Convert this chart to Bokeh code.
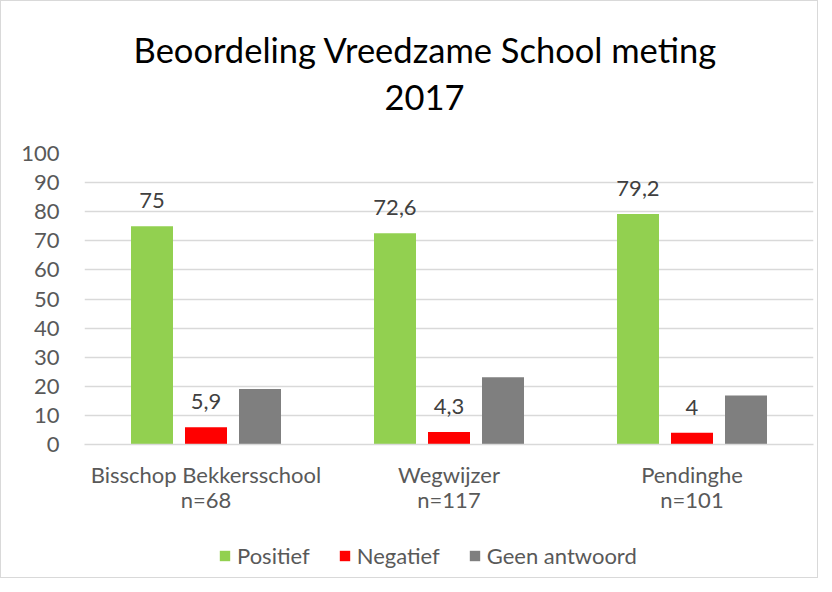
from bokeh.plotting import figure
from bokeh.models import (ColumnDataSource, FactorRange, Legend, LegendItem, LabelSet, Label,
                          FixedTicker, Range1d)
from bokeh.layouts import column
from bokeh.transform import dodge
from bokeh.core.properties import value
from bokeh.embed import file_html
from bokeh.resources import INLINE

schools = ["Bisschop Bekkersschool", "Wegwijzer", "Pendinghe"]
counts = ["n=68", "n=117", "n=101"]
positief = [75, 72.6, 79.2]
negatief = [5.9, 4.3, 4]
geen_antwoord = [19.1, 23.1, 16.8]
series_names = ["Positief", "Negatief", "Geen antwoord"]
colors = ["#92d050", "#ff0000", "#7f7f7f"]
y_ticks = [0, 10, 20, 30, 40, 50, 60, 70, 80, 90, 100]
title_lines = ["Beoordeling Vreedzame School meting", "2017"]

FONT = "Lato"
TXT = "#595959"
FS = "22px"
W = 816
TH = 130  # height of the title strip
FL, FR = 83, 812  # frame edges (column layout aligns all frames to these)

cats = [f"{s}\n{n}" for s, n in zip(schools, counts)]


def fmt(v):
    s = f"{v:g}"
    return s.replace(".", ",")


src = ColumnDataSource(dict(
    cat=cats,
    pos=positief,
    neg=negatief,
    geen=geen_antwoord,
    pos_lbl=[fmt(v) for v in positief],
    neg_lbl=[fmt(v) for v in negatief],
))

# ---- title strip (pixel-like ranges, y downwards)
t = figure(width=W, height=TH, x_range=Range1d(FL, FR), y_range=Range1d(TH, 0),
           output_backend="svg", toolbar_location=None,
           x_axis_location=None, y_axis_location=None, min_border=0)
t.grid.grid_line_color = None
t.outline_line_color = None
for line, (lx, ly) in zip(title_lines, [(424, 48), (423, 96)]):
    t.add_layout(Label(x=lx, y=ly, text=line, text_align="center", text_baseline="middle",
                       text_font=FONT, text_font_size="34.5px", text_color="#000000"))

# ---- main chart
xr = FactorRange(*cats)
p = figure(width=W, height=400, x_range=xr, y_range=Range1d(0, 100),
           output_backend="svg", toolbar_location=None,
           min_border_left=FL, min_border_right=W - FR, min_border_top=152 - TH,
           min_border_bottom=87)

step = 54 / 243
bw = 42 / 243
fields = ["pos", "neg", "geen"]
for i, (f, c) in enumerate(zip(fields, colors)):
    p.vbar(x=dodge("cat", (i - 1) * step, range=xr), top=f, width=bw,
           source=src, fill_color=c, line_color=None)

for i, f in enumerate(["pos", "neg"]):
    ls = LabelSet(x=dodge("cat", (i - 1) * step, range=xr), y=f, text=f + "_lbl",
                  source=src, text_align="center", text_baseline="alphabetic", y_offset=18,
                  text_font=value(FONT), text_font_size=value(FS), text_color="#404040")
    p.add_layout(ls)

p.outline_line_color = None
p.xgrid.grid_line_color = None
p.ygrid.grid_line_color = "#d9d9d9"
p.ygrid.grid_line_width = 1.5
p.yaxis.ticker = FixedTicker(ticks=y_ticks)
p.yaxis.axis_line_color = None
p.yaxis.major_tick_line_color = None
p.yaxis.minor_tick_line_color = None
p.yaxis.major_label_text_font = FONT
p.yaxis.major_label_text_font_size = FS
p.yaxis.major_label_text_color = TXT
p.yaxis.major_label_standoff = 19

p.xaxis.axis_line_color = "#d9d9d9"
p.xaxis.axis_line_width = 1.5
p.xaxis.major_tick_line_color = None
p.xaxis.minor_tick_line_color = None
p.xaxis.major_label_text_font = FONT
p.xaxis.major_label_text_font_size = FS
p.xaxis.major_label_text_color = TXT
p.xaxis.major_label_text_line_height = 0.95
p.xaxis.major_label_standoff = 10

# ---- legend strip below the chart: same bars, kept outside its visible y-range
q = figure(width=W, height=46, x_range=xr, y_range=Range1d(500, 546),
           output_backend="svg", toolbar_location=None,
           x_axis_location=None, y_axis_location=None, min_border=0)
q.grid.grid_line_color = None
q.outline_line_color = None
leg_r = [q.vbar(x=dodge("cat", (i - 1) * step, range=xr), top=f, width=bw, source=src,
                fill_color=c, line_color=None)
         for i, (f, c) in enumerate(zip(fields, colors))]
legend = Legend(items=[LegendItem(label=n, renderers=[r]) for n, r in zip(series_names, leg_r)],
                orientation="horizontal", location=(134, 8),
                glyph_width=13, glyph_height=13, label_standoff=6, spacing=28,
                label_text_font=FONT, label_text_font_size=FS, label_text_color=TXT,
                border_line_color=None, background_fill_alpha=0, margin=0, padding=4)
q.add_layout(legend)

lay = column(t, p, q, spacing=0)
lay.styles = {"border": "1px solid #d9d9d9"}

open("out.html", "w").write(file_html(lay, INLINE))
